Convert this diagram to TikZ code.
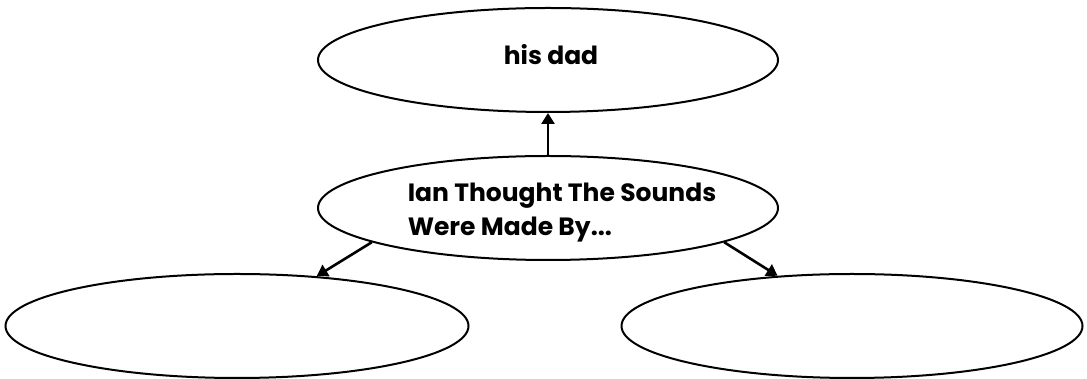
\documentclass[tikz,border=0pt]{standalone}
\usepackage{fontspec}
\setsansfont{Poppins}
\usetikzlibrary{shapes.geometric,arrows.meta}

\begin{document}
\begin{tikzpicture}[x=1pt,y=1pt,
    bubble/.style={ellipse,draw,line width=2pt,inner sep=0pt,
      minimum width=460pt,minimum height=104pt},
    words/.style={align=left,font=\sffamily\bfseries\fontsize{25}{34}\selectfont},
    link/.style={line width=2.6pt,-{Triangle[length=11pt,width=13pt]}}]
    \useasboundingbox (0,0) rectangle (1087,379);
    % the middle question and its three answers
    \node[bubble] (cause) at (548,171) {};
    \node[words] (causetext) at (562,166) {Ian Thought The Sounds\\Were Made By...};
    \node[bubble] (dad) at (548,319) {};
    \node[words] (dadtext) at (551,324) {his dad};
    \node[bubble,minimum width=463pt] (left) at (237,53) {};
    \node[bubble,minimum width=461pt] (right) at (852,53) {};
    \draw[link] (cause.north) -- (dad.south);
    \draw[link] (cause.191) -- (left.32);
    \draw[link] (cause.-11) -- (right.146);
  \end{tikzpicture}
\end{document}
